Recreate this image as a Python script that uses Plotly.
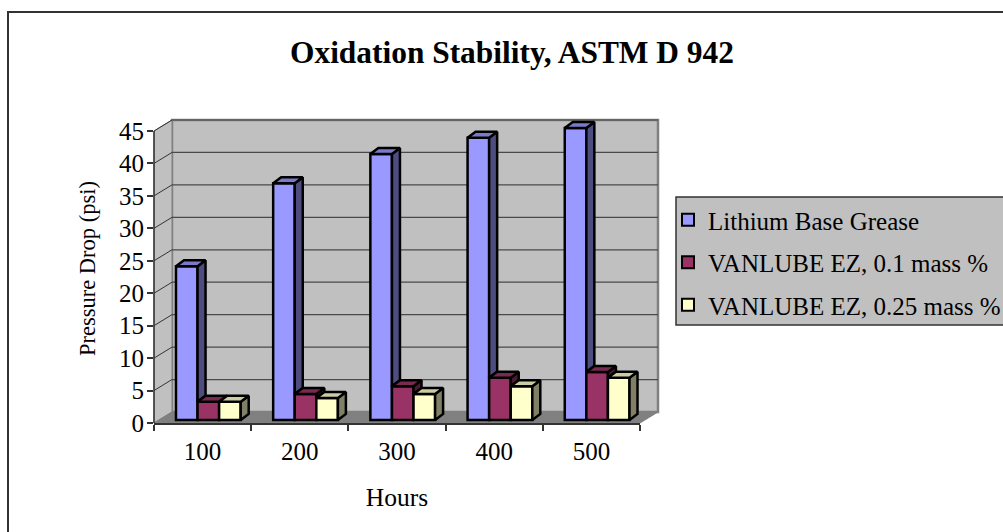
import plotly.graph_objects as go

hours = [100, 200, 300, 400, 500]
series_names = ["Lithium Base Grease", "VANLUBE EZ, 0.1 mass %", "VANLUBE EZ, 0.25 mass %"]
lithium = [23.7, 36.5, 41.0, 43.5, 45.0]
ez_01 = [2.8, 4.0, 5.2, 6.5, 7.4]
ez_025 = [2.8, 3.4, 4.0, 5.2, 6.5]
y_ticks = [0, 5, 10, 15, 20, 25, 30, 35, 40, 45]

W, H = 1003, 532
px = lambda x: x / W
py = lambda y: 1 - y / H
AX_L, AX_R, AX_T, AX_B = 154, 640, 131, 423
DX, DY = 18, 11
U_X = (AX_R - AX_L) / 500
U_Y = (AX_B - AX_T) / 45
Y_MAX = 47.6                     # head-room so that the top of the tallest bar is not clipped
AX_T_EXT = AX_B - Y_MAX * U_Y
BAR_W = 22.2
BAR_START = -27.4
BASE = 3 / U_Y
D_X = 8 / U_X
D_Y = 6 / U_Y

front = ["#9999FF", "#993366", "#FFFFCC"]
side = ["#4D4D80", "#4D1A33", "#808066"]
top = ["#7A7ACC", "#7A2952", "#CCCCA3"]
vals = [lithium, ez_01, ez_025]

fig = go.Figure()
for i, (name, v) in enumerate(zip(series_names, vals)):
    fig.add_bar(x=hours, y=v, base=BASE, width=BAR_W, offset=BAR_START + i * BAR_W,
                name=name, legendgroup=name,
                marker=dict(color=front[i], line=dict(color="black", width=2.5)),
                cliponaxis=False, hoverinfo="skip")

line = dict(color="black", width=2.5)
for i, v in enumerate(vals):
    for j, h in enumerate(hours):
        left = h + BAR_START + i * BAR_W
        right = left + BAR_W
        t = v[j] + BASE
        lower = vals[i + 1][j] + BASE if i < 2 else BASE
        fig.add_scatter(x=[right, right + D_X, right + D_X, right, right],
                        y=[t, t + D_Y, lower + D_Y, lower, t],
                        mode="lines", fill="toself", fillcolor=side[i], line=line,
                        legendgroup=series_names[i],
                        showlegend=False, hoverinfo="skip", cliponaxis=False)
        fig.add_scatter(x=[left, right, right + D_X, left + D_X, left],
                        y=[t, t, t + D_Y, t + D_Y, t],
                        mode="lines", fill="toself", fillcolor=top[i], line=line,
                        legendgroup=series_names[i],
                        showlegend=False, hoverinfo="skip", cliponaxis=False)


def poly(pts):
    return "M" + " L".join(f"{px(a):.5f},{py(b):.5f}" for a, b in pts) + " Z"


def pline(x0, y0, x1, y1, color, width):
    return dict(type="line", xref="paper", yref="paper", x0=px(x0), y0=py(y0), x1=px(x1), y1=py(y1),
                line=dict(color=color, width=width), layer="below")


shapes = [
    # chart frame
    dict(type="rect", xref="paper", yref="paper", x0=px(8), x1=px(1020), y0=py(12), y1=py(560),
         line=dict(color="#333333", width=2), layer="below"),
    # back wall
    dict(type="rect", xref="paper", yref="paper", x0=px(AX_L + DX), x1=px(AX_R + DX),
         y0=py(AX_T - DY), y1=py(AX_B - DY), fillcolor="#C0C0C0",
         line=dict(color="#808080", width=2.5), layer="below"),
    # side wall
    dict(type="path", xref="paper", yref="paper",
         path=poly([(AX_L, AX_B), (AX_L + DX, AX_B - DY), (AX_L + DX, AX_T - DY), (AX_L, AX_T)]),
         fillcolor="#C0C0C0", line=dict(color="#808080", width=1), layer="below"),
    # floor
    dict(type="path", xref="paper", yref="paper",
         path=poly([(AX_L, AX_B), (AX_R, AX_B), (AX_R + DX, AX_B - DY), (AX_L + DX, AX_B - DY)]),
         fillcolor="#808080", line=dict(color="#808080", width=1), layer="below"),
    # legend box
    dict(type="rect", xref="paper", yref="paper", x0=px(676), x1=px(1010), y0=py(197), y1=py(325),
         fillcolor="#C0C0C0", line=dict(color="#333333", width=1.5), layer="below"),
    # value axis line
    pline(AX_L, AX_T, AX_L, AX_B, "#333333", 1.5),
]
for t in y_ticks[1:]:
    y = AX_B - t * U_Y
    shapes.append(pline(AX_L, y, AX_L + DX, y - DY, "#333333", 1))
    shapes.append(pline(AX_L + DX, y - DY, AX_R + DX, y - DY, "#4A4A4A", 1.2))

fig.update_layout(
    width=W, height=H, autosize=False,
    margin=dict(l=0, r=0, t=0, b=0, autoexpand=False),
    paper_bgcolor="white", plot_bgcolor="rgba(0,0,0,0)",
    font=dict(family="Liberation Serif, Times New Roman, serif", color="black", size=24),
    barmode="overlay",
    title=dict(text="<b>Oxidation Stability, ASTM D 942</b>", font=dict(size=31.4),
               x=px(512), xanchor="center", y=py(52), yanchor="middle"),
    shapes=shapes,
    xaxis=dict(domain=[px(AX_L), px(AX_R)], range=[50, 550],
               tickvals=hours, ticktext=[str(h) for h in hours], ticks="", ticklen=0,
               showline=True, linecolor="#333333", linewidth=1.5, showgrid=False, zeroline=False,
               tickfont=dict(size=25), ticklabelstandoff=5,
               minor=dict(tickvals=[50, 150, 250, 350, 450, 550], ticks="outside", ticklen=6,
                          tickcolor="#333333", tickwidth=1.5, showgrid=False),
               title=dict(text="Hours", font=dict(size=25.5), standoff=24)),
    yaxis=dict(domain=[py(AX_B), py(AX_T_EXT)], range=[0, Y_MAX],
               tickvals=y_ticks, ticks="outside", ticklen=6, tickcolor="#333333", tickwidth=1.5,
               showline=False, showgrid=False, zeroline=False,
               tickfont=dict(size=25), ticklabelstandoff=-2,
               title=dict(text="Pressure Drop (psi)", font=dict(size=22.5), standoff=17)),
    legend=dict(x=px(668), xanchor="left", y=py(197), yanchor="top",
                bgcolor="rgba(0,0,0,0)", borderwidth=0,
                font=dict(size=25), tracegroupgap=7, itemsizing="constant",
                itemwidth=30, traceorder="grouped"),
    showlegend=True,
)

fig.write_html("out.html", post_script="document.body.style.margin='0';",
               config=dict(displayModeBar=False))
